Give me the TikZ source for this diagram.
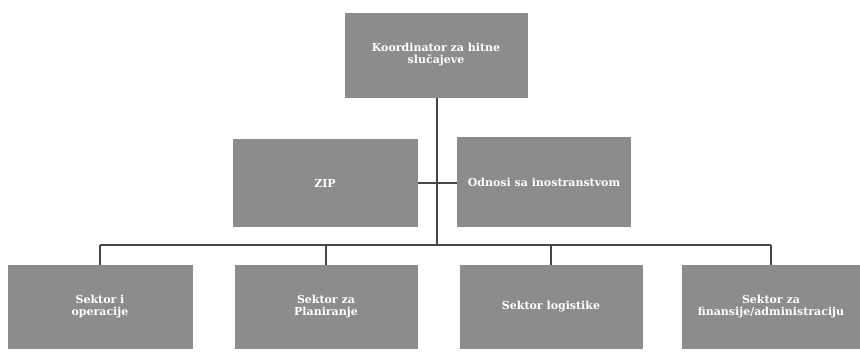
\documentclass[tikz,border=0pt]{standalone}
\usepackage{fontspec}
\setmainfont{DejaVu Serif}
\definecolor{boxgray}{RGB}{140,140,140}
\definecolor{linegray}{RGB}{70,70,70}
\tikzset{
  orgbox/.style={fill=boxgray, draw=none, inner sep=1pt, outer sep=0pt,
    text=white, align=center, font=\fontsize{11}{12}\selectfont\bfseries},
  conn/.style={draw=linegray, line width=1.4pt}
}
\begin{document}
\begin{tikzpicture}[x=1pt,y=-1pt]
\useasboundingbox (0,0) rectangle (860,351);
% top
\node[orgbox, minimum width=183pt, minimum height=85pt] (top) at (436,55) {Koordinator za hitne\\slučajeve};
% middle
\node[orgbox, minimum width=185pt, minimum height=88pt] (zip) at (325,183) {ZIP};
\node[orgbox, minimum width=174pt, minimum height=90pt] (odn) at (544,182) {Odnosi sa inostranstvom};
% bottom
\node[orgbox, minimum width=185pt, minimum height=84pt] (b1) at (100,307) {Sektor i\\operacije};
\node[orgbox, minimum width=183pt, minimum height=84pt] (b2) at (326,307) {Sektor za\\Planiranje};
\node[orgbox, minimum width=183pt, minimum height=84pt] (b3) at (551,307) {Sektor logistike};
\node[orgbox, minimum width=178pt, minimum height=84pt] (b4) at (771,307) {Sektor za\\finansije/administraciju};
% connectors
\coordinate (bus) at (437,245);
\coordinate (topfoot) at (437,97.5);
\draw[conn] (topfoot) -- (bus);
\draw[conn] (zip.east) -- (zip.east -| odn.west);
\draw[conn] (b1.north |- bus) -- (b4.north |- bus);
\draw[conn] (b1.north |- bus) -- (b1.north);
\draw[conn] (b2.north |- bus) -- (b2.north);
\draw[conn] (b3.north |- bus) -- (b3.north);
\draw[conn] (b4.north |- bus) -- (b4.north);
\end{tikzpicture}
\end{document}
